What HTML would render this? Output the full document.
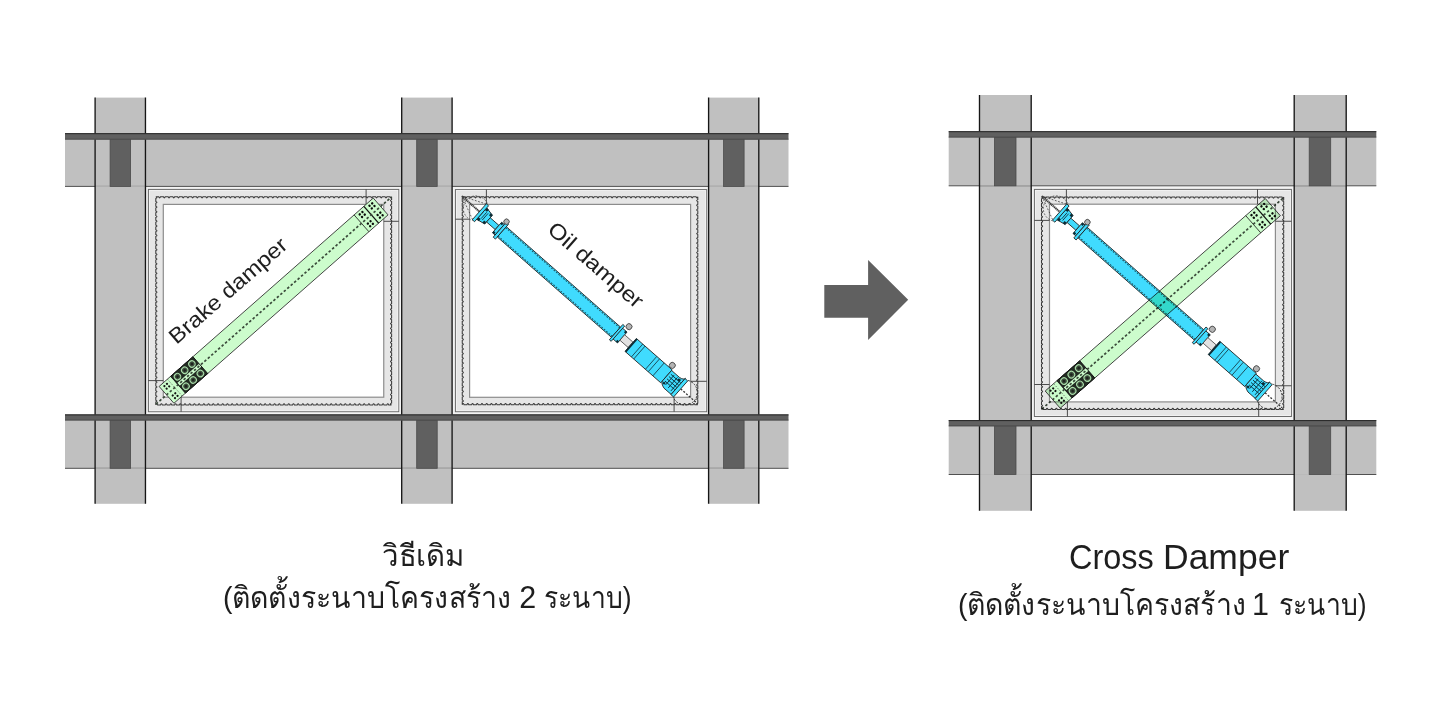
<!DOCTYPE html><html><head><meta charset="utf-8"><style>html,body{margin:0;padding:0;background:#fff;width:1440px;height:720px;overflow:hidden}.t{position:absolute;font-family:"Liberation Sans",sans-serif;color:#1e1e1e;white-space:nowrap;line-height:1;transform-origin:0 0}</style></head><body>
<svg width="1440" height="720" viewBox="0 0 1440 720" style="position:absolute;left:0;top:0">
<rect width="1440" height="720" fill="#fff"/>
<rect x="145" y="186" width="257" height="229" fill="#f3f3f3"/>
<rect x="452" y="186" width="257" height="229" fill="#f3f3f3"/>
<rect x="95.1" y="97.6" width="50.35" height="406.2" fill="#c0c0c0"/>
<rect x="401.7" y="97.6" width="50.4" height="406.2" fill="#c0c0c0"/>
<rect x="708.6" y="97.6" width="50.2" height="406.2" fill="#c0c0c0"/>
<rect x="65" y="139.6" width="723.5" height="46.8" fill="#c0c0c0"/>
<line x1="65" y1="186.4" x2="788.5" y2="186.4" stroke="#505050" stroke-width="1"/>
<rect x="65" y="420.5" width="723.5" height="47.8" fill="#c0c0c0"/>
<line x1="65" y1="468.3" x2="788.5" y2="468.3" stroke="#505050" stroke-width="1"/>
<line x1="95.1" y1="186.4" x2="145.45" y2="186.4" stroke="#bababa" stroke-width="1"/>
<line x1="401.7" y1="186.4" x2="452.1" y2="186.4" stroke="#bababa" stroke-width="1"/>
<line x1="708.6" y1="186.4" x2="758.8" y2="186.4" stroke="#bababa" stroke-width="1"/>
<line x1="95.1" y1="468.3" x2="145.45" y2="468.3" stroke="#bababa" stroke-width="1"/>
<line x1="401.7" y1="468.3" x2="452.1" y2="468.3" stroke="#bababa" stroke-width="1"/>
<line x1="708.6" y1="468.3" x2="758.8" y2="468.3" stroke="#bababa" stroke-width="1"/>
<rect x="110.1" y="139.1" width="20.5" height="47.3" fill="#606060" stroke="#4a4a4a" stroke-width="0.8"/>
<rect x="416.7" y="139.1" width="20.5" height="47.3" fill="#606060" stroke="#4a4a4a" stroke-width="0.8"/>
<rect x="723.6" y="139.1" width="20.5" height="47.3" fill="#606060" stroke="#4a4a4a" stroke-width="0.8"/>
<rect x="110.1" y="420" width="20.5" height="48.3" fill="#606060" stroke="#4a4a4a" stroke-width="0.8"/>
<rect x="416.7" y="420" width="20.5" height="48.3" fill="#606060" stroke="#4a4a4a" stroke-width="0.8"/>
<rect x="723.6" y="420" width="20.5" height="48.3" fill="#606060" stroke="#4a4a4a" stroke-width="0.8"/>
<line x1="95.1" y1="97.6" x2="95.1" y2="503.8" stroke="#161616" stroke-width="1.35"/>
<line x1="145.45" y1="97.6" x2="145.45" y2="503.8" stroke="#161616" stroke-width="1.35"/>
<line x1="401.7" y1="97.6" x2="401.7" y2="503.8" stroke="#161616" stroke-width="1.35"/>
<line x1="452.1" y1="97.6" x2="452.1" y2="503.8" stroke="#161616" stroke-width="1.35"/>
<line x1="708.6" y1="97.6" x2="708.6" y2="503.8" stroke="#161616" stroke-width="1.35"/>
<line x1="758.8" y1="97.6" x2="758.8" y2="503.8" stroke="#161616" stroke-width="1.35"/>
<rect x="65" y="133.2" width="723.5" height="6.4" fill="#606060"/>
<line x1="65" y1="133.7" x2="788.5" y2="133.7" stroke="#262626" stroke-width="1"/>
<line x1="65" y1="139.2" x2="788.5" y2="139.2" stroke="#454545" stroke-width="0.8"/>
<rect x="65" y="414.4" width="723.5" height="6.1" fill="#606060"/>
<line x1="65" y1="414.9" x2="788.5" y2="414.9" stroke="#262626" stroke-width="1"/>
<line x1="65" y1="420.1" x2="788.5" y2="420.1" stroke="#454545" stroke-width="0.8"/>
<rect x="148.4" y="189.4" width="250.35" height="222.3" fill="#e6e6e6" stroke="#6a6a6a" stroke-width="1"/>
<rect x="149.4" y="190.4" width="248.35" height="220.3" fill="none" stroke="#f4f4f4" stroke-width="0.8"/>
<rect x="163.3" y="204.4" width="220.45" height="192.8" fill="#ffffff" stroke="#8c8c8c" stroke-width="1.2"/>
<path d="M155.8,196.7 L158.71,196.7 Q159.61,199 160.52,196.7 L163.43,196.7 Q164.33,199 165.23,196.7 L168.14,196.7 Q169.04,199 169.95,196.7 L172.86,196.7 Q173.76,199 174.66,196.7 L177.57,196.7 Q178.48,199 179.38,196.7 L182.29,196.7 Q183.19,199 184.1,196.7 L187.01,196.7 Q187.91,199 188.81,196.7 L191.72,196.7 Q192.62,199 193.53,196.7 L196.44,196.7 Q197.34,199 198.24,196.7 L201.15,196.7 Q202.06,199 202.96,196.7 L205.87,196.7 Q206.77,199 207.68,196.7 L210.59,196.7 Q211.49,199 212.39,196.7 L215.3,196.7 Q216.2,199 217.11,196.7 L220.02,196.7 Q220.92,199 221.82,196.7 L224.73,196.7 Q225.64,199 226.54,196.7 L229.45,196.7 Q230.35,199 231.26,196.7 L234.17,196.7 Q235.07,199 235.97,196.7 L238.88,196.7 Q239.78,199 240.69,196.7 L243.6,196.7 Q244.5,199 245.4,196.7 L248.31,196.7 Q249.22,199 250.12,196.7 L253.03,196.7 Q253.93,199 254.84,196.7 L257.75,196.7 Q258.65,199 259.55,196.7 L262.46,196.7 Q263.36,199 264.27,196.7 L267.18,196.7 Q268.08,199 268.98,196.7 L271.89,196.7 Q272.8,199 273.7,196.7 L276.61,196.7 Q277.51,199 278.42,196.7 L281.33,196.7 Q282.23,199 283.13,196.7 L286.04,196.7 Q286.94,199 287.85,196.7 L290.76,196.7 Q291.66,199 292.56,196.7 L295.47,196.7 Q296.38,199 297.28,196.7 L300.19,196.7 Q301.09,199 302,196.7 L304.91,196.7 Q305.81,199 306.71,196.7 L309.62,196.7 Q310.52,199 311.43,196.7 L314.34,196.7 Q315.24,199 316.14,196.7 L319.05,196.7 Q319.96,199 320.86,196.7 L323.77,196.7 Q324.67,199 325.58,196.7 L328.49,196.7 Q329.39,199 330.29,196.7 L333.2,196.7 Q334.1,199 335.01,196.7 L337.92,196.7 Q338.82,199 339.72,196.7 L342.63,196.7 Q343.54,199 344.44,196.7 L347.35,196.7 Q348.25,199 349.16,196.7 L352.07,196.7 Q352.97,199 353.87,196.7 L356.78,196.7 Q357.68,199 358.59,196.7 L361.5,196.7 Q362.4,199 363.3,196.7 L366.21,196.7 Q367.12,199 368.02,196.7 L370.93,196.7 Q371.83,199 372.74,196.7 L375.65,196.7 Q376.55,199 377.45,196.7 L380.36,196.7 Q381.26,199 382.17,196.7 L385.08,196.7 Q385.98,199 386.88,196.7 L389.79,196.7 Q390.7,199 391.6,196.7 M391.6,196.7 L391.6,199.62 Q389.3,200.53 391.6,201.43 L391.6,204.35 Q389.3,205.26 391.6,206.16 L391.6,209.08 Q389.3,209.99 391.6,210.9 L391.6,213.82 Q389.3,214.72 391.6,215.63 L391.6,218.55 Q389.3,219.45 391.6,220.36 L391.6,223.28 Q389.3,224.18 391.6,225.09 L391.6,228.01 Q389.3,228.92 391.6,229.82 L391.6,232.74 Q389.3,233.65 391.6,234.55 L391.6,237.47 Q389.3,238.38 391.6,239.29 L391.6,242.21 Q389.3,243.11 391.6,244.02 L391.6,246.94 Q389.3,247.84 391.6,248.75 L391.6,251.67 Q389.3,252.58 391.6,253.48 L391.6,256.4 Q389.3,257.31 391.6,258.21 L391.6,261.13 Q389.3,262.04 391.6,262.95 L391.6,265.87 Q389.3,266.77 391.6,267.68 L391.6,270.6 Q389.3,271.5 391.6,272.41 L391.6,275.33 Q389.3,276.23 391.6,277.14 L391.6,280.06 Q389.3,280.97 391.6,281.87 L391.6,284.79 Q389.3,285.7 391.6,286.6 L391.6,289.52 Q389.3,290.43 391.6,291.34 L391.6,294.26 Q389.3,295.16 391.6,296.07 L391.6,298.99 Q389.3,299.89 391.6,300.8 L391.6,303.72 Q389.3,304.63 391.6,305.53 L391.6,308.45 Q389.3,309.36 391.6,310.26 L391.6,313.18 Q389.3,314.09 391.6,315 L391.6,317.92 Q389.3,318.82 391.6,319.73 L391.6,322.65 Q389.3,323.55 391.6,324.46 L391.6,327.38 Q389.3,328.28 391.6,329.19 L391.6,332.11 Q389.3,333.02 391.6,333.92 L391.6,336.84 Q389.3,337.75 391.6,338.65 L391.6,341.57 Q389.3,342.48 391.6,343.39 L391.6,346.31 Q389.3,347.21 391.6,348.12 L391.6,351.04 Q389.3,351.94 391.6,352.85 L391.6,355.77 Q389.3,356.68 391.6,357.58 L391.6,360.5 Q389.3,361.41 391.6,362.31 L391.6,365.23 Q389.3,366.14 391.6,367.05 L391.6,369.97 Q389.3,370.87 391.6,371.78 L391.6,374.7 Q389.3,375.6 391.6,376.51 L391.6,379.43 Q389.3,380.33 391.6,381.24 L391.6,384.16 Q389.3,385.07 391.6,385.97 L391.6,388.89 Q389.3,389.8 391.6,390.7 L391.6,393.62 Q389.3,394.53 391.6,395.44 L391.6,398.36 Q389.3,399.26 391.6,400.17 L391.6,403.09 Q389.3,403.99 391.6,404.9 M391.6,404.9 L388.69,404.9 Q387.79,402.6 386.88,404.9 L383.97,404.9 Q383.07,402.6 382.17,404.9 L379.26,404.9 Q378.36,402.6 377.45,404.9 L374.54,404.9 Q373.64,402.6 372.74,404.9 L369.83,404.9 Q368.92,402.6 368.02,404.9 L365.11,404.9 Q364.21,402.6 363.3,404.9 L360.39,404.9 Q359.49,402.6 358.59,404.9 L355.68,404.9 Q354.78,402.6 353.87,404.9 L350.96,404.9 Q350.06,402.6 349.16,404.9 L346.25,404.9 Q345.34,402.6 344.44,404.9 L341.53,404.9 Q340.63,402.6 339.72,404.9 L336.81,404.9 Q335.91,402.6 335.01,404.9 L332.1,404.9 Q331.2,402.6 330.29,404.9 L327.38,404.9 Q326.48,402.6 325.58,404.9 L322.67,404.9 Q321.76,402.6 320.86,404.9 L317.95,404.9 Q317.05,402.6 316.14,404.9 L313.23,404.9 Q312.33,402.6 311.43,404.9 L308.52,404.9 Q307.62,402.6 306.71,404.9 L303.8,404.9 Q302.9,402.6 302,404.9 L299.09,404.9 Q298.18,402.6 297.28,404.9 L294.37,404.9 Q293.47,402.6 292.56,404.9 L289.65,404.9 Q288.75,402.6 287.85,404.9 L284.94,404.9 Q284.04,402.6 283.13,404.9 L280.22,404.9 Q279.32,402.6 278.42,404.9 L275.51,404.9 Q274.6,402.6 273.7,404.9 L270.79,404.9 Q269.89,402.6 268.98,404.9 L266.07,404.9 Q265.17,402.6 264.27,404.9 L261.36,404.9 Q260.46,402.6 259.55,404.9 L256.64,404.9 Q255.74,402.6 254.84,404.9 L251.93,404.9 Q251.02,402.6 250.12,404.9 L247.21,404.9 Q246.31,402.6 245.4,404.9 L242.49,404.9 Q241.59,402.6 240.69,404.9 L237.78,404.9 Q236.88,402.6 235.97,404.9 L233.06,404.9 Q232.16,402.6 231.26,404.9 L228.35,404.9 Q227.44,402.6 226.54,404.9 L223.63,404.9 Q222.73,402.6 221.82,404.9 L218.91,404.9 Q218.01,402.6 217.11,404.9 L214.2,404.9 Q213.3,402.6 212.39,404.9 L209.48,404.9 Q208.58,402.6 207.68,404.9 L204.77,404.9 Q203.86,402.6 202.96,404.9 L200.05,404.9 Q199.15,402.6 198.24,404.9 L195.33,404.9 Q194.43,402.6 193.53,404.9 L190.62,404.9 Q189.72,402.6 188.81,404.9 L185.9,404.9 Q185,402.6 184.1,404.9 L181.19,404.9 Q180.28,402.6 179.38,404.9 L176.47,404.9 Q175.57,402.6 174.66,404.9 L171.75,404.9 Q170.85,402.6 169.95,404.9 L167.04,404.9 Q166.14,402.6 165.23,404.9 L162.32,404.9 Q161.42,402.6 160.52,404.9 L157.61,404.9 Q156.7,402.6 155.8,404.9 M155.8,404.9 L155.8,401.98 Q158.1,401.07 155.8,400.17 L155.8,397.25 Q158.1,396.34 155.8,395.44 L155.8,392.52 Q158.1,391.61 155.8,390.7 L155.8,387.78 Q158.1,386.88 155.8,385.97 L155.8,383.05 Q158.1,382.15 155.8,381.24 L155.8,378.32 Q158.1,377.42 155.8,376.51 L155.8,373.59 Q158.1,372.68 155.8,371.78 L155.8,368.86 Q158.1,367.95 155.8,367.05 L155.8,364.13 Q158.1,363.22 155.8,362.31 L155.8,359.39 Q158.1,358.49 155.8,357.58 L155.8,354.66 Q158.1,353.76 155.8,352.85 L155.8,349.93 Q158.1,349.02 155.8,348.12 L155.8,345.2 Q158.1,344.29 155.8,343.39 L155.8,340.47 Q158.1,339.56 155.8,338.65 L155.8,335.73 Q158.1,334.83 155.8,333.92 L155.8,331 Q158.1,330.1 155.8,329.19 L155.8,326.27 Q158.1,325.37 155.8,324.46 L155.8,321.54 Q158.1,320.63 155.8,319.73 L155.8,316.81 Q158.1,315.9 155.8,315 L155.8,312.08 Q158.1,311.17 155.8,310.26 L155.8,307.34 Q158.1,306.44 155.8,305.53 L155.8,302.61 Q158.1,301.71 155.8,300.8 L155.8,297.88 Q158.1,296.97 155.8,296.07 L155.8,293.15 Q158.1,292.24 155.8,291.34 L155.8,288.42 Q158.1,287.51 155.8,286.6 L155.8,283.68 Q158.1,282.78 155.8,281.87 L155.8,278.95 Q158.1,278.05 155.8,277.14 L155.8,274.22 Q158.1,273.32 155.8,272.41 L155.8,269.49 Q158.1,268.58 155.8,267.68 L155.8,264.76 Q158.1,263.85 155.8,262.95 L155.8,260.03 Q158.1,259.12 155.8,258.21 L155.8,255.29 Q158.1,254.39 155.8,253.48 L155.8,250.56 Q158.1,249.66 155.8,248.75 L155.8,245.83 Q158.1,244.92 155.8,244.02 L155.8,241.1 Q158.1,240.19 155.8,239.29 L155.8,236.37 Q158.1,235.46 155.8,234.55 L155.8,231.63 Q158.1,230.73 155.8,229.82 L155.8,226.9 Q158.1,226 155.8,225.09 L155.8,222.17 Q158.1,221.27 155.8,220.36 L155.8,217.44 Q158.1,216.53 155.8,215.63 L155.8,212.71 Q158.1,211.8 155.8,210.9 L155.8,207.98 Q158.1,207.07 155.8,206.16 L155.8,203.24 Q158.1,202.34 155.8,201.43 L155.8,198.51 Q158.1,197.61 155.8,196.7" fill="none" stroke="#3a3a3a" stroke-width="1.05"/>
<line x1="366.1" y1="189.4" x2="366.1" y2="204.4" stroke="#3a3a3a" stroke-width="0.9"/>
<line x1="383.75" y1="221.3" x2="398.75" y2="221.3" stroke="#3a3a3a" stroke-width="0.9"/>
<line x1="148.4" y1="380.6" x2="163.3" y2="380.6" stroke="#3a3a3a" stroke-width="0.9"/>
<line x1="181.1" y1="397.2" x2="181.1" y2="411.7" stroke="#3a3a3a" stroke-width="0.9"/>
<rect x="455.4" y="189.6" width="251.3" height="222.1" fill="#e6e6e6" stroke="#6a6a6a" stroke-width="1"/>
<rect x="456.4" y="190.6" width="249.3" height="220.1" fill="none" stroke="#f4f4f4" stroke-width="0.8"/>
<rect x="469.6" y="204.4" width="221" height="192.9" fill="#ffffff" stroke="#8c8c8c" stroke-width="1.2"/>
<path d="M462.25,196.7 L465.16,196.7 Q466.06,199 466.96,196.7 L469.87,196.7 Q470.77,199 471.67,196.7 L474.58,196.7 Q475.48,199 476.38,196.7 L479.29,196.7 Q480.19,199 481.09,196.7 L484,196.7 Q484.9,199 485.81,196.7 L488.71,196.7 Q489.61,199 490.52,196.7 L493.42,196.7 Q494.32,199 495.23,196.7 L498.13,196.7 Q499.04,199 499.94,196.7 L502.84,196.7 Q503.75,199 504.65,196.7 L507.56,196.7 Q508.46,199 509.36,196.7 L512.27,196.7 Q513.17,199 514.07,196.7 L516.98,196.7 Q517.88,199 518.78,196.7 L521.69,196.7 Q522.59,199 523.49,196.7 L526.4,196.7 Q527.3,199 528.2,196.7 L531.11,196.7 Q532.01,199 532.91,196.7 L535.82,196.7 Q536.72,199 537.63,196.7 L540.53,196.7 Q541.43,199 542.34,196.7 L545.24,196.7 Q546.15,199 547.05,196.7 L549.95,196.7 Q550.86,199 551.76,196.7 L554.67,196.7 Q555.57,199 556.47,196.7 L559.38,196.7 Q560.28,199 561.18,196.7 L564.09,196.7 Q564.99,199 565.89,196.7 L568.8,196.7 Q569.7,199 570.6,196.7 L573.51,196.7 Q574.41,199 575.31,196.7 L578.22,196.7 Q579.12,199 580.02,196.7 L582.93,196.7 Q583.83,199 584.74,196.7 L587.64,196.7 Q588.54,199 589.45,196.7 L592.35,196.7 Q593.26,199 594.16,196.7 L597.06,196.7 Q597.97,199 598.87,196.7 L601.78,196.7 Q602.68,199 603.58,196.7 L606.49,196.7 Q607.39,199 608.29,196.7 L611.2,196.7 Q612.1,199 613,196.7 L615.91,196.7 Q616.81,199 617.71,196.7 L620.62,196.7 Q621.52,199 622.42,196.7 L625.33,196.7 Q626.23,199 627.13,196.7 L630.04,196.7 Q630.94,199 631.85,196.7 L634.75,196.7 Q635.65,199 636.56,196.7 L639.46,196.7 Q640.37,199 641.27,196.7 L644.17,196.7 Q645.08,199 645.98,196.7 L648.89,196.7 Q649.79,199 650.69,196.7 L653.6,196.7 Q654.5,199 655.4,196.7 L658.31,196.7 Q659.21,199 660.11,196.7 L663.02,196.7 Q663.92,199 664.82,196.7 L667.73,196.7 Q668.63,199 669.53,196.7 L672.44,196.7 Q673.34,199 674.25,196.7 L677.15,196.7 Q678.05,199 678.96,196.7 L681.86,196.7 Q682.76,199 683.67,196.7 L686.57,196.7 Q687.48,199 688.38,196.7 L691.28,196.7 Q692.19,199 693.09,196.7 L696,196.7 Q696.9,199 697.8,196.7 M697.8,196.7 L697.8,199.62 Q695.5,200.52 697.8,201.43 L697.8,204.34 Q695.5,205.25 697.8,206.15 L697.8,209.07 Q695.5,209.98 697.8,210.88 L697.8,213.8 Q695.5,214.7 697.8,215.61 L697.8,218.53 Q695.5,219.43 697.8,220.34 L697.8,223.25 Q695.5,224.16 697.8,225.06 L697.8,227.98 Q695.5,228.89 697.8,229.79 L697.8,232.71 Q695.5,233.61 697.8,234.52 L697.8,237.44 Q695.5,238.34 697.8,239.25 L697.8,242.16 Q695.5,243.07 697.8,243.97 L697.8,246.89 Q695.5,247.79 697.8,248.7 L697.8,251.62 Q695.5,252.52 697.8,253.43 L697.8,256.34 Q695.5,257.25 697.8,258.15 L697.8,261.07 Q695.5,261.98 697.8,262.88 L697.8,265.8 Q695.5,266.7 697.8,267.61 L697.8,270.53 Q695.5,271.43 697.8,272.34 L697.8,275.25 Q695.5,276.16 697.8,277.06 L697.8,279.98 Q695.5,280.89 697.8,281.79 L697.8,284.71 Q695.5,285.61 697.8,286.52 L697.8,289.44 Q695.5,290.34 697.8,291.25 L697.8,294.16 Q695.5,295.07 697.8,295.97 L697.8,298.89 Q695.5,299.79 697.8,300.7 L697.8,303.62 Q695.5,304.52 697.8,305.43 L697.8,308.34 Q695.5,309.25 697.8,310.15 L697.8,313.07 Q695.5,313.98 697.8,314.88 L697.8,317.8 Q695.5,318.7 697.8,319.61 L697.8,322.53 Q695.5,323.43 697.8,324.34 L697.8,327.25 Q695.5,328.16 697.8,329.06 L697.8,331.98 Q695.5,332.89 697.8,333.79 L697.8,336.71 Q695.5,337.61 697.8,338.52 L697.8,341.44 Q695.5,342.34 697.8,343.25 L697.8,346.16 Q695.5,347.07 697.8,347.97 L697.8,350.89 Q695.5,351.79 697.8,352.7 L697.8,355.62 Q695.5,356.52 697.8,357.43 L697.8,360.34 Q695.5,361.25 697.8,362.15 L697.8,365.07 Q695.5,365.98 697.8,366.88 L697.8,369.8 Q695.5,370.7 697.8,371.61 L697.8,374.53 Q695.5,375.43 697.8,376.34 L697.8,379.25 Q695.5,380.16 697.8,381.06 L697.8,383.98 Q695.5,384.89 697.8,385.79 L697.8,388.71 Q695.5,389.61 697.8,390.52 L697.8,393.44 Q695.5,394.34 697.8,395.25 L697.8,398.16 Q695.5,399.07 697.8,399.97 L697.8,402.89 Q695.5,403.79 697.8,404.7 M697.8,404.7 L694.89,404.7 Q693.99,402.4 693.09,404.7 L690.18,404.7 Q689.28,402.4 688.38,404.7 L685.47,404.7 Q684.57,402.4 683.67,404.7 L680.76,404.7 Q679.86,402.4 678.96,404.7 L676.05,404.7 Q675.15,402.4 674.25,404.7 L671.34,404.7 Q670.44,402.4 669.53,404.7 L666.63,404.7 Q665.73,402.4 664.82,404.7 L661.92,404.7 Q661.01,402.4 660.11,404.7 L657.21,404.7 Q656.3,402.4 655.4,404.7 L652.49,404.7 Q651.59,402.4 650.69,404.7 L647.78,404.7 Q646.88,402.4 645.98,404.7 L643.07,404.7 Q642.17,402.4 641.27,404.7 L638.36,404.7 Q637.46,402.4 636.56,404.7 L633.65,404.7 Q632.75,402.4 631.85,404.7 L628.94,404.7 Q628.04,402.4 627.13,404.7 L624.23,404.7 Q623.33,402.4 622.42,404.7 L619.52,404.7 Q618.62,402.4 617.71,404.7 L614.81,404.7 Q613.9,402.4 613,404.7 L610.1,404.7 Q609.19,402.4 608.29,404.7 L605.38,404.7 Q604.48,402.4 603.58,404.7 L600.67,404.7 Q599.77,402.4 598.87,404.7 L595.96,404.7 Q595.06,402.4 594.16,404.7 L591.25,404.7 Q590.35,402.4 589.45,404.7 L586.54,404.7 Q585.64,402.4 584.74,404.7 L581.83,404.7 Q580.93,402.4 580.02,404.7 L577.12,404.7 Q576.22,402.4 575.31,404.7 L572.41,404.7 Q571.51,402.4 570.6,404.7 L567.7,404.7 Q566.79,402.4 565.89,404.7 L562.99,404.7 Q562.08,402.4 561.18,404.7 L558.27,404.7 Q557.37,402.4 556.47,404.7 L553.56,404.7 Q552.66,402.4 551.76,404.7 L548.85,404.7 Q547.95,402.4 547.05,404.7 L544.14,404.7 Q543.24,402.4 542.34,404.7 L539.43,404.7 Q538.53,402.4 537.63,404.7 L534.72,404.7 Q533.82,402.4 532.91,404.7 L530.01,404.7 Q529.11,402.4 528.2,404.7 L525.3,404.7 Q524.4,402.4 523.49,404.7 L520.59,404.7 Q519.68,402.4 518.78,404.7 L515.88,404.7 Q514.97,402.4 514.07,404.7 L511.16,404.7 Q510.26,402.4 509.36,404.7 L506.45,404.7 Q505.55,402.4 504.65,404.7 L501.74,404.7 Q500.84,402.4 499.94,404.7 L497.03,404.7 Q496.13,402.4 495.23,404.7 L492.32,404.7 Q491.42,402.4 490.52,404.7 L487.61,404.7 Q486.71,402.4 485.8,404.7 L482.9,404.7 Q482,402.4 481.09,404.7 L478.19,404.7 Q477.29,402.4 476.38,404.7 L473.48,404.7 Q472.57,402.4 471.67,404.7 L468.77,404.7 Q467.86,402.4 466.96,404.7 L464.05,404.7 Q463.15,402.4 462.25,404.7 M462.25,404.7 L462.25,401.78 Q464.55,400.88 462.25,399.97 L462.25,397.06 Q464.55,396.15 462.25,395.25 L462.25,392.33 Q464.55,391.42 462.25,390.52 L462.25,387.6 Q464.55,386.7 462.25,385.79 L462.25,382.87 Q464.55,381.97 462.25,381.06 L462.25,378.15 Q464.55,377.24 462.25,376.34 L462.25,373.42 Q464.55,372.51 462.25,371.61 L462.25,368.69 Q464.55,367.79 462.25,366.88 L462.25,363.96 Q464.55,363.06 462.25,362.15 L462.25,359.24 Q464.55,358.33 462.25,357.43 L462.25,354.51 Q464.55,353.61 462.25,352.7 L462.25,349.78 Q464.55,348.88 462.25,347.97 L462.25,345.06 Q464.55,344.15 462.25,343.25 L462.25,340.33 Q464.55,339.42 462.25,338.52 L462.25,335.6 Q464.55,334.7 462.25,333.79 L462.25,330.87 Q464.55,329.97 462.25,329.06 L462.25,326.15 Q464.55,325.24 462.25,324.34 L462.25,321.42 Q464.55,320.51 462.25,319.61 L462.25,316.69 Q464.55,315.79 462.25,314.88 L462.25,311.96 Q464.55,311.06 462.25,310.15 L462.25,307.24 Q464.55,306.33 462.25,305.43 L462.25,302.51 Q464.55,301.61 462.25,300.7 L462.25,297.78 Q464.55,296.88 462.25,295.97 L462.25,293.06 Q464.55,292.15 462.25,291.25 L462.25,288.33 Q464.55,287.42 462.25,286.52 L462.25,283.6 Q464.55,282.7 462.25,281.79 L462.25,278.87 Q464.55,277.97 462.25,277.06 L462.25,274.15 Q464.55,273.24 462.25,272.34 L462.25,269.42 Q464.55,268.51 462.25,267.61 L462.25,264.69 Q464.55,263.79 462.25,262.88 L462.25,259.96 Q464.55,259.06 462.25,258.15 L462.25,255.24 Q464.55,254.33 462.25,253.43 L462.25,250.51 Q464.55,249.61 462.25,248.7 L462.25,245.78 Q464.55,244.88 462.25,243.97 L462.25,241.06 Q464.55,240.15 462.25,239.25 L462.25,236.33 Q464.55,235.42 462.25,234.52 L462.25,231.6 Q464.55,230.7 462.25,229.79 L462.25,226.87 Q464.55,225.97 462.25,225.06 L462.25,222.15 Q464.55,221.24 462.25,220.34 L462.25,217.42 Q464.55,216.51 462.25,215.61 L462.25,212.69 Q464.55,211.79 462.25,210.88 L462.25,207.96 Q464.55,207.06 462.25,206.15 L462.25,203.24 Q464.55,202.33 462.25,201.43 L462.25,198.51 Q464.55,197.61 462.25,196.7" fill="none" stroke="#3a3a3a" stroke-width="1.05"/>
<line x1="486.4" y1="189.6" x2="486.4" y2="204.4" stroke="#3a3a3a" stroke-width="0.9"/>
<line x1="455.4" y1="219.2" x2="469.6" y2="219.2" stroke="#3a3a3a" stroke-width="0.9"/>
<line x1="690.6" y1="381.3" x2="706.7" y2="381.3" stroke="#3a3a3a" stroke-width="0.9"/>
<line x1="674.1" y1="397.3" x2="674.1" y2="411.7" stroke="#3a3a3a" stroke-width="0.9"/>
<g transform="translate(155.75,403.8) rotate(-41.34) translate(0,0.4)">
<rect x="14" y="-11.2" width="285.18" height="22.4" fill="#ccfccc" stroke="#2a2a2a" stroke-width="0.8"/>
<rect x="29.5" y="-11.2" width="29.5" height="9.4" fill="#222c22"/>
<rect x="29.5" y="1.8" width="29.5" height="9.4" fill="#222c22"/>
<rect x="29.5" y="-11.2" width="29.5" height="22.4" fill="none" stroke="#111" stroke-width="0.9"/>
<circle cx="34.3" cy="-6.4" r="3.2" fill="#3c4c3c" stroke="#a8dca8" stroke-width="1.15"/>
<circle cx="34.3" cy="-6.4" r="1.3" fill="#1c221c"/>
<circle cx="34.3" cy="6.4" r="3.2" fill="#3c4c3c" stroke="#a8dca8" stroke-width="1.15"/>
<circle cx="34.3" cy="6.4" r="1.3" fill="#1c221c"/>
<circle cx="43.9" cy="-6.4" r="3.2" fill="#3c4c3c" stroke="#a8dca8" stroke-width="1.15"/>
<circle cx="43.9" cy="-6.4" r="1.3" fill="#1c221c"/>
<circle cx="43.9" cy="6.4" r="3.2" fill="#3c4c3c" stroke="#a8dca8" stroke-width="1.15"/>
<circle cx="43.9" cy="6.4" r="1.3" fill="#1c221c"/>
<circle cx="53.5" cy="-6.4" r="3.2" fill="#3c4c3c" stroke="#a8dca8" stroke-width="1.15"/>
<circle cx="53.5" cy="-6.4" r="1.3" fill="#1c221c"/>
<circle cx="53.5" cy="6.4" r="3.2" fill="#3c4c3c" stroke="#a8dca8" stroke-width="1.15"/>
<circle cx="53.5" cy="6.4" r="1.3" fill="#1c221c"/>
<line x1="29.5" y1="-11.2" x2="29.5" y2="11.2" stroke="#222" stroke-width="1"/>
<circle cx="18.2" cy="-4.6" r="1.1" fill="#111"/>
<circle cx="18.2" cy="-8" r="1.1" fill="#111"/>
<circle cx="21.6" cy="-4.6" r="1.1" fill="#111"/>
<circle cx="21.6" cy="-8" r="1.1" fill="#111"/>
<circle cx="18.2" cy="4.6" r="1.1" fill="#111"/>
<circle cx="18.2" cy="8" r="1.1" fill="#111"/>
<circle cx="21.6" cy="4.6" r="1.1" fill="#111"/>
<circle cx="21.6" cy="8" r="1.1" fill="#111"/>
<line x1="25" y1="-11.2" x2="25" y2="11.2" stroke="#444" stroke-width="0.6" stroke-dasharray="1.5 1.5"/>
<line x1="273.68" y1="-11.2" x2="273.68" y2="11.2" stroke="#222" stroke-width="0.8"/>
<line x1="286.68" y1="-11.2" x2="286.68" y2="11.2" stroke="#111" stroke-width="1.3"/>
<circle cx="278.28" cy="-4.4" r="1.2" fill="#0a0a0a"/>
<circle cx="278.28" cy="-7.9" r="1.2" fill="#0a0a0a"/>
<circle cx="281.88" cy="-4.4" r="1.2" fill="#0a0a0a"/>
<circle cx="281.88" cy="-7.9" r="1.2" fill="#0a0a0a"/>
<circle cx="278.28" cy="4.4" r="1.2" fill="#0a0a0a"/>
<circle cx="278.28" cy="7.9" r="1.2" fill="#0a0a0a"/>
<circle cx="281.88" cy="4.4" r="1.2" fill="#0a0a0a"/>
<circle cx="281.88" cy="7.9" r="1.2" fill="#0a0a0a"/>
<circle cx="291.28" cy="-4.4" r="1.2" fill="#0a0a0a"/>
<circle cx="291.28" cy="-7.9" r="1.2" fill="#0a0a0a"/>
<circle cx="294.88" cy="-4.4" r="1.2" fill="#0a0a0a"/>
<circle cx="294.88" cy="-7.9" r="1.2" fill="#0a0a0a"/>
<circle cx="291.28" cy="4.4" r="1.2" fill="#0a0a0a"/>
<circle cx="291.28" cy="7.9" r="1.2" fill="#0a0a0a"/>
<circle cx="294.88" cy="4.4" r="1.2" fill="#0a0a0a"/>
<circle cx="294.88" cy="7.9" r="1.2" fill="#0a0a0a"/>
<line x1="0" y1="0" x2="313.68" y2="0" stroke="#3a4a3a" stroke-width="1.7" stroke-dasharray="2.5 2.1"/>
</g>
<g transform="translate(462.5,197.1) rotate(41.31)" stroke-linejoin="round">
<g transform="translate(-1,-0.3)">
<path d="M0,0 L24,-10.4 M0,0 L24,10.8" fill="none" stroke="#333" stroke-width="0.7" stroke-dasharray="1.8 1.6"/>
<path d="M24,-11.2 A12.5,12.5 0 1 0 24,11.2" fill="none" stroke="#4a4a4a" stroke-width="0.75" stroke-dasharray="1.8 1.5"/>
<line x1="0" y1="0" x2="24" y2="0" stroke="#3c3c3c" stroke-width="2" stroke-dasharray="1.3 0.5"/>
<path d="M26.3,-7.6 L35.5,-5.8 L35.5,5.8 L26.3,7.6 Z" fill="#40dbfe" stroke="#1a1a1a" stroke-width="0.8"/>
<rect x="26.3" y="-7.6" width="2.8" height="2.8" fill="#0d2a33"/>
<rect x="26.3" y="4.8" width="2.8" height="2.8" fill="#0d2a33"/>
<rect x="32.8" y="-6.2" width="2.6" height="2.6" fill="#0d2a33"/>
<rect x="32.8" y="3.6" width="2.6" height="2.6" fill="#0d2a33"/>
<path d="M29.2,-4.2 V4.2 M31,-4.5 V4.5" stroke="#0d2a33" stroke-width="0.8"/>
<rect x="23.3" y="-10.4" width="3" height="21.2" fill="#44e0ff" stroke="#1a1a1a" stroke-width="0.8"/>
</g>
<rect x="34.5" y="-2.8" width="11.5" height="5.6" fill="#40dbfe" stroke="#1a1a1a" stroke-width="0.8"/>
<rect x="46" y="-7" width="3.5" height="14" fill="#40dbfe" stroke="#1a1a1a" stroke-width="0.8"/>
<rect x="46" y="-7" width="2.2" height="2.2" fill="#0d2a33"/>
<rect x="46" y="4.8" width="2.2" height="2.2" fill="#0d2a33"/>
<rect x="49.5" y="-9.8" width="3" height="19.6" fill="#40dbfe" stroke="#1a1a1a" stroke-width="0.8"/>
<circle cx="49.3" cy="-10.6" r="2.7" fill="#b4b4b4" stroke="#3a3a3a" stroke-width="0.8"/>
<rect x="52.5" y="-6.7" width="152" height="13.7" fill="#40dbfe" stroke="#1a1a1a" stroke-width="0.8"/>
<path d="M52.5,-5.5 H204.5 M52.5,5.8 H204.5" stroke="#1b5260" stroke-width="1" stroke-dasharray="1.8 1.4"/>
<rect x="206.5" y="-7.2" width="6.2" height="14.4" fill="#40dbfe" stroke="#1a1a1a" stroke-width="0.8"/>
<rect x="210.5" y="-7.2" width="2.2" height="2.2" fill="#0d2a33"/>
<rect x="210.5" y="5" width="2.2" height="2.2" fill="#0d2a33"/>
<rect x="204.5" y="-10.2" width="2.4" height="20.4" fill="#40dbfe" stroke="#1a1a1a" stroke-width="0.8"/>
<circle cx="210.6" cy="-12.6" r="3" fill="#b4b4b4" stroke="#3a3a3a" stroke-width="0.8"/>
<rect x="212.7" y="-3.6" width="11" height="7.2" fill="#e2e2e2" stroke="#333" stroke-width="0.7"/>
<rect x="223.9" y="-8.6" width="47.6" height="17.2" fill="#40dbfe" stroke="#1a1a1a" stroke-width="0.8"/>
<rect x="223.9" y="-8.6" width="1.6" height="17.2" fill="#0d2a33"/>
<line x1="232.4" y1="-8.6" x2="232.4" y2="8.6" stroke="#163a44" stroke-width="0.8"/>
<line x1="235.5" y1="-8.6" x2="235.5" y2="8.6" stroke="#163a44" stroke-width="0.8"/>
<line x1="251.1" y1="-8.6" x2="251.1" y2="8.6" stroke="#163a44" stroke-width="0.8"/>
<line x1="254.8" y1="-8.6" x2="254.8" y2="8.6" stroke="#163a44" stroke-width="0.8"/>
<line x1="261" y1="-8.6" x2="261" y2="8.6" stroke="#163a44" stroke-width="0.8"/>
<circle cx="268.7" cy="-12.1" r="3" fill="#b4b4b4" stroke="#3a3a3a" stroke-width="0.8"/>
<path d="M271.5,-7.8 H282 Q287,-8.5 287,-11 V10.5 H277.5 Q272,9 271.5,6 Z" fill="#40dbfe" stroke="#1a1a1a" stroke-width="0.8"/>
<path d="M273.5,-4.5 H286.5 M273.5,-1.5 H286.5 M273.5,1.5 H286.5 M273.5,4.5 H286.5 M276.5,-6 V7 M280.5,-6.5 V7.5 M284.5,-7 V8" stroke="#0a3340" stroke-width="0.9"/>
<rect x="282" y="-6.8" width="2.6" height="2.6" fill="#0d2a33"/>
<rect x="273" y="5.5" width="2.4" height="2.4" fill="#0d2a33"/>
<rect x="287" y="-10.6" width="3.5" height="21.4" fill="#44e0ff" stroke="#1a1a1a" stroke-width="0.8"/>
<line x1="290.5" y1="0" x2="313.26" y2="0" stroke="#333" stroke-width="1.3" stroke-dasharray="2 1.6"/>
<path d="M290.5,-11.2 A12.5,12.5 0 1 1 290.5,11.2" fill="none" stroke="#303030" stroke-width="0.9" stroke-dasharray="2 1.3"/>
</g>
<path d="M824.3,285.1 H868.1 V260 L908.2,299.8 L868.1,340 V317.8 H824.3 Z" fill="#606060"/>
<rect x="1031" y="186" width="263" height="235" fill="#f3f3f3"/>
<rect x="979.5" y="95" width="51.7" height="415.8" fill="#c0c0c0"/>
<rect x="1294.2" y="95" width="52" height="415.8" fill="#c0c0c0"/>
<rect x="948.7" y="137.5" width="427.6" height="48.3" fill="#c0c0c0"/>
<line x1="948.7" y1="185.8" x2="1376.3" y2="185.8" stroke="#505050" stroke-width="1"/>
<rect x="948.7" y="426.3" width="427.6" height="48.2" fill="#c0c0c0"/>
<line x1="948.7" y1="474.5" x2="1376.3" y2="474.5" stroke="#505050" stroke-width="1"/>
<line x1="979.5" y1="185.8" x2="1031.2" y2="185.8" stroke="#bababa" stroke-width="1"/>
<line x1="1294.2" y1="185.8" x2="1346.2" y2="185.8" stroke="#bababa" stroke-width="1"/>
<line x1="979.5" y1="474.5" x2="1031.2" y2="474.5" stroke="#bababa" stroke-width="1"/>
<line x1="1294.2" y1="474.5" x2="1346.2" y2="474.5" stroke="#bababa" stroke-width="1"/>
<rect x="994.5" y="137" width="21.5" height="48.8" fill="#606060" stroke="#4a4a4a" stroke-width="0.8"/>
<rect x="1309.2" y="137" width="21.5" height="48.8" fill="#606060" stroke="#4a4a4a" stroke-width="0.8"/>
<rect x="994.5" y="425.8" width="21.5" height="48.7" fill="#606060" stroke="#4a4a4a" stroke-width="0.8"/>
<rect x="1309.2" y="425.8" width="21.5" height="48.7" fill="#606060" stroke="#4a4a4a" stroke-width="0.8"/>
<line x1="979.5" y1="95" x2="979.5" y2="510.8" stroke="#161616" stroke-width="1.35"/>
<line x1="1031.2" y1="95" x2="1031.2" y2="510.8" stroke="#161616" stroke-width="1.35"/>
<line x1="1294.2" y1="95" x2="1294.2" y2="510.8" stroke="#161616" stroke-width="1.35"/>
<line x1="1346.2" y1="95" x2="1346.2" y2="510.8" stroke="#161616" stroke-width="1.35"/>
<rect x="948.7" y="131.2" width="427.6" height="6.3" fill="#606060"/>
<line x1="948.7" y1="131.7" x2="1376.3" y2="131.7" stroke="#262626" stroke-width="1"/>
<line x1="948.7" y1="137.1" x2="1376.3" y2="137.1" stroke="#454545" stroke-width="0.8"/>
<rect x="948.7" y="420.1" width="427.6" height="6.2" fill="#606060"/>
<line x1="948.7" y1="420.6" x2="1376.3" y2="420.6" stroke="#262626" stroke-width="1"/>
<line x1="948.7" y1="425.9" x2="1376.3" y2="425.9" stroke="#454545" stroke-width="0.8"/>
<rect x="1034.4" y="189.4" width="257" height="227.1" fill="#e6e6e6" stroke="#6a6a6a" stroke-width="1"/>
<rect x="1035.4" y="190.4" width="255" height="225.1" fill="none" stroke="#f4f4f4" stroke-width="0.8"/>
<rect x="1049.5" y="204.2" width="225.9" height="197.7" fill="#ffffff" stroke="#8c8c8c" stroke-width="1.2"/>
<path d="M1041.5,197 L1044.37,197 Q1045.27,199.3 1046.16,197 L1049.03,197 Q1049.92,199.3 1050.82,197 L1053.69,197 Q1054.58,199.3 1055.47,197 L1058.35,197 Q1059.24,199.3 1060.13,197 L1063,197 Q1063.9,199.3 1064.79,197 L1067.66,197 Q1068.55,199.3 1069.45,197 L1072.32,197 Q1073.21,199.3 1074.1,197 L1076.98,197 Q1077.87,199.3 1078.76,197 L1081.64,197 Q1082.53,199.3 1083.42,197 L1086.29,197 Q1087.19,199.3 1088.08,197 L1090.95,197 Q1091.84,199.3 1092.73,197 L1095.61,197 Q1096.5,199.3 1097.39,197 L1100.27,197 Q1101.16,199.3 1102.05,197 L1104.92,197 Q1105.82,199.3 1106.71,197 L1109.58,197 Q1110.47,199.3 1111.37,197 L1114.24,197 Q1115.13,199.3 1116.02,197 L1118.9,197 Q1119.79,199.3 1120.68,197 L1123.55,197 Q1124.45,199.3 1125.34,197 L1128.21,197 Q1129.1,199.3 1130,197 L1132.87,197 Q1133.76,199.3 1134.65,197 L1137.53,197 Q1138.42,199.3 1139.31,197 L1142.19,197 Q1143.08,199.3 1143.97,197 L1146.84,197 Q1147.74,199.3 1148.63,197 L1151.5,197 Q1152.39,199.3 1153.28,197 L1156.16,197 Q1157.05,199.3 1157.94,197 L1160.82,197 Q1161.71,199.3 1162.6,197 L1165.47,197 Q1166.37,199.3 1167.26,197 L1170.13,197 Q1171.02,199.3 1171.92,197 L1174.79,197 Q1175.68,199.3 1176.57,197 L1179.45,197 Q1180.34,199.3 1181.23,197 L1184.1,197 Q1185,199.3 1185.89,197 L1188.76,197 Q1189.65,199.3 1190.55,197 L1193.42,197 Q1194.31,199.3 1195.2,197 L1198.08,197 Q1198.97,199.3 1199.86,197 L1202.74,197 Q1203.63,199.3 1204.52,197 L1207.39,197 Q1208.29,199.3 1209.18,197 L1212.05,197 Q1212.94,199.3 1213.83,197 L1216.71,197 Q1217.6,199.3 1218.49,197 L1221.37,197 Q1222.26,199.3 1223.15,197 L1226.02,197 Q1226.92,199.3 1227.81,197 L1230.68,197 Q1231.57,199.3 1232.47,197 L1235.34,197 Q1236.23,199.3 1237.12,197 L1240,197 Q1240.89,199.3 1241.78,197 L1244.65,197 Q1245.55,199.3 1246.44,197 L1249.31,197 Q1250.2,199.3 1251.1,197 L1253.97,197 Q1254.86,199.3 1255.75,197 L1258.63,197 Q1259.52,199.3 1260.41,197 L1263.29,197 Q1264.18,199.3 1265.07,197 L1267.94,197 Q1268.84,199.3 1269.73,197 L1272.6,197 Q1273.49,199.3 1274.38,197 L1277.26,197 Q1278.15,199.3 1279.04,197 L1281.92,197 Q1282.81,199.3 1283.7,197 M1283.7,197 L1283.7,199.91 Q1281.4,200.82 1283.7,201.72 L1283.7,204.64 Q1281.4,205.54 1283.7,206.44 L1283.7,209.36 Q1281.4,210.26 1283.7,211.17 L1283.7,214.08 Q1281.4,214.98 1283.7,215.89 L1283.7,218.8 Q1281.4,219.71 1283.7,220.61 L1283.7,223.52 Q1281.4,224.43 1283.7,225.33 L1283.7,228.25 Q1281.4,229.15 1283.7,230.06 L1283.7,232.97 Q1281.4,233.87 1283.7,234.78 L1283.7,237.69 Q1281.4,238.6 1283.7,239.5 L1283.7,242.41 Q1281.4,243.32 1283.7,244.22 L1283.7,247.14 Q1281.4,248.04 1283.7,248.94 L1283.7,251.86 Q1281.4,252.76 1283.7,253.67 L1283.7,256.58 Q1281.4,257.48 1283.7,258.39 L1283.7,261.3 Q1281.4,262.21 1283.7,263.11 L1283.7,266.02 Q1281.4,266.93 1283.7,267.83 L1283.7,270.75 Q1281.4,271.65 1283.7,272.56 L1283.7,275.47 Q1281.4,276.37 1283.7,277.28 L1283.7,280.19 Q1281.4,281.1 1283.7,282 L1283.7,284.91 Q1281.4,285.82 1283.7,286.72 L1283.7,289.64 Q1281.4,290.54 1283.7,291.44 L1283.7,294.36 Q1281.4,295.26 1283.7,296.17 L1283.7,299.08 Q1281.4,299.98 1283.7,300.89 L1283.7,303.8 Q1281.4,304.71 1283.7,305.61 L1283.7,308.52 Q1281.4,309.43 1283.7,310.33 L1283.7,313.25 Q1281.4,314.15 1283.7,315.06 L1283.7,317.97 Q1281.4,318.87 1283.7,319.78 L1283.7,322.69 Q1281.4,323.6 1283.7,324.5 L1283.7,327.41 Q1281.4,328.32 1283.7,329.22 L1283.7,332.14 Q1281.4,333.04 1283.7,333.94 L1283.7,336.86 Q1281.4,337.76 1283.7,338.67 L1283.7,341.58 Q1281.4,342.48 1283.7,343.39 L1283.7,346.3 Q1281.4,347.21 1283.7,348.11 L1283.7,351.02 Q1281.4,351.93 1283.7,352.83 L1283.7,355.75 Q1281.4,356.65 1283.7,357.56 L1283.7,360.47 Q1281.4,361.37 1283.7,362.28 L1283.7,365.19 Q1281.4,366.1 1283.7,367 L1283.7,369.91 Q1281.4,370.82 1283.7,371.72 L1283.7,374.64 Q1281.4,375.54 1283.7,376.44 L1283.7,379.36 Q1281.4,380.26 1283.7,381.17 L1283.7,384.08 Q1281.4,384.98 1283.7,385.89 L1283.7,388.8 Q1281.4,389.71 1283.7,390.61 L1283.7,393.52 Q1281.4,394.43 1283.7,395.33 L1283.7,398.25 Q1281.4,399.15 1283.7,400.06 L1283.7,402.97 Q1281.4,403.87 1283.7,404.78 L1283.7,407.69 Q1281.4,408.6 1283.7,409.5 M1283.7,409.5 L1280.83,409.5 Q1279.93,407.2 1279.04,409.5 L1276.17,409.5 Q1275.28,407.2 1274.38,409.5 L1271.51,409.5 Q1270.62,407.2 1269.73,409.5 L1266.85,409.5 Q1265.96,407.2 1265.07,409.5 L1262.2,409.5 Q1261.3,407.2 1260.41,409.5 L1257.54,409.5 Q1256.65,407.2 1255.75,409.5 L1252.88,409.5 Q1251.99,407.2 1251.1,409.5 L1248.22,409.5 Q1247.33,407.2 1246.44,409.5 L1243.56,409.5 Q1242.67,407.2 1241.78,409.5 L1238.91,409.5 Q1238.01,407.2 1237.12,409.5 L1234.25,409.5 Q1233.36,407.2 1232.47,409.5 L1229.59,409.5 Q1228.7,407.2 1227.81,409.5 L1224.93,409.5 Q1224.04,407.2 1223.15,409.5 L1220.28,409.5 Q1219.38,407.2 1218.49,409.5 L1215.62,409.5 Q1214.73,407.2 1213.83,409.5 L1210.96,409.5 Q1210.07,407.2 1209.18,409.5 L1206.3,409.5 Q1205.41,407.2 1204.52,409.5 L1201.65,409.5 Q1200.75,407.2 1199.86,409.5 L1196.99,409.5 Q1196.1,407.2 1195.2,409.5 L1192.33,409.5 Q1191.44,407.2 1190.55,409.5 L1187.67,409.5 Q1186.78,407.2 1185.89,409.5 L1183.01,409.5 Q1182.12,407.2 1181.23,409.5 L1178.36,409.5 Q1177.46,407.2 1176.57,409.5 L1173.7,409.5 Q1172.81,407.2 1171.92,409.5 L1169.04,409.5 Q1168.15,407.2 1167.26,409.5 L1164.38,409.5 Q1163.49,407.2 1162.6,409.5 L1159.73,409.5 Q1158.83,407.2 1157.94,409.5 L1155.07,409.5 Q1154.18,407.2 1153.28,409.5 L1150.41,409.5 Q1149.52,407.2 1148.63,409.5 L1145.75,409.5 Q1144.86,407.2 1143.97,409.5 L1141.1,409.5 Q1140.2,407.2 1139.31,409.5 L1136.44,409.5 Q1135.55,407.2 1134.65,409.5 L1131.78,409.5 Q1130.89,407.2 1130,409.5 L1127.12,409.5 Q1126.23,407.2 1125.34,409.5 L1122.46,409.5 Q1121.57,407.2 1120.68,409.5 L1117.81,409.5 Q1116.91,407.2 1116.02,409.5 L1113.15,409.5 Q1112.26,407.2 1111.37,409.5 L1108.49,409.5 Q1107.6,407.2 1106.71,409.5 L1103.83,409.5 Q1102.94,407.2 1102.05,409.5 L1099.18,409.5 Q1098.28,407.2 1097.39,409.5 L1094.52,409.5 Q1093.63,407.2 1092.73,409.5 L1089.86,409.5 Q1088.97,407.2 1088.08,409.5 L1085.2,409.5 Q1084.31,407.2 1083.42,409.5 L1080.55,409.5 Q1079.65,407.2 1078.76,409.5 L1075.89,409.5 Q1075,407.2 1074.1,409.5 L1071.23,409.5 Q1070.34,407.2 1069.45,409.5 L1066.57,409.5 Q1065.68,407.2 1064.79,409.5 L1061.91,409.5 Q1061.02,407.2 1060.13,409.5 L1057.26,409.5 Q1056.36,407.2 1055.47,409.5 L1052.6,409.5 Q1051.71,407.2 1050.82,409.5 L1047.94,409.5 Q1047.05,407.2 1046.16,409.5 L1043.28,409.5 Q1042.39,407.2 1041.5,409.5 M1041.5,409.5 L1041.5,406.59 Q1043.8,405.68 1041.5,404.78 L1041.5,401.86 Q1043.8,400.96 1041.5,400.06 L1041.5,397.14 Q1043.8,396.24 1041.5,395.33 L1041.5,392.42 Q1043.8,391.52 1041.5,390.61 L1041.5,387.7 Q1043.8,386.79 1041.5,385.89 L1041.5,382.98 Q1043.8,382.07 1041.5,381.17 L1041.5,378.25 Q1043.8,377.35 1041.5,376.44 L1041.5,373.53 Q1043.8,372.63 1041.5,371.72 L1041.5,368.81 Q1043.8,367.9 1041.5,367 L1041.5,364.09 Q1043.8,363.18 1041.5,362.28 L1041.5,359.36 Q1043.8,358.46 1041.5,357.56 L1041.5,354.64 Q1043.8,353.74 1041.5,352.83 L1041.5,349.92 Q1043.8,349.02 1041.5,348.11 L1041.5,345.2 Q1043.8,344.29 1041.5,343.39 L1041.5,340.48 Q1043.8,339.57 1041.5,338.67 L1041.5,335.75 Q1043.8,334.85 1041.5,333.94 L1041.5,331.03 Q1043.8,330.13 1041.5,329.22 L1041.5,326.31 Q1043.8,325.4 1041.5,324.5 L1041.5,321.59 Q1043.8,320.68 1041.5,319.78 L1041.5,316.86 Q1043.8,315.96 1041.5,315.06 L1041.5,312.14 Q1043.8,311.24 1041.5,310.33 L1041.5,307.42 Q1043.8,306.52 1041.5,305.61 L1041.5,302.7 Q1043.8,301.79 1041.5,300.89 L1041.5,297.98 Q1043.8,297.07 1041.5,296.17 L1041.5,293.25 Q1043.8,292.35 1041.5,291.44 L1041.5,288.53 Q1043.8,287.63 1041.5,286.72 L1041.5,283.81 Q1043.8,282.9 1041.5,282 L1041.5,279.09 Q1043.8,278.18 1041.5,277.28 L1041.5,274.36 Q1043.8,273.46 1041.5,272.56 L1041.5,269.64 Q1043.8,268.74 1041.5,267.83 L1041.5,264.92 Q1043.8,264.02 1041.5,263.11 L1041.5,260.2 Q1043.8,259.29 1041.5,258.39 L1041.5,255.48 Q1043.8,254.57 1041.5,253.67 L1041.5,250.75 Q1043.8,249.85 1041.5,248.94 L1041.5,246.03 Q1043.8,245.13 1041.5,244.22 L1041.5,241.31 Q1043.8,240.4 1041.5,239.5 L1041.5,236.59 Q1043.8,235.68 1041.5,234.78 L1041.5,231.86 Q1043.8,230.96 1041.5,230.06 L1041.5,227.14 Q1043.8,226.24 1041.5,225.33 L1041.5,222.42 Q1043.8,221.52 1041.5,220.61 L1041.5,217.7 Q1043.8,216.79 1041.5,215.89 L1041.5,212.98 Q1043.8,212.07 1041.5,211.17 L1041.5,208.25 Q1043.8,207.35 1041.5,206.44 L1041.5,203.53 Q1043.8,202.63 1041.5,201.72 L1041.5,198.81 Q1043.8,197.9 1041.5,197" fill="none" stroke="#3a3a3a" stroke-width="1.05"/>
<line x1="1066.4" y1="189.4" x2="1066.4" y2="204.2" stroke="#3a3a3a" stroke-width="0.9"/>
<line x1="1034.4" y1="220.4" x2="1049.5" y2="220.4" stroke="#3a3a3a" stroke-width="0.9"/>
<line x1="1275.4" y1="385.75" x2="1291.4" y2="385.75" stroke="#3a3a3a" stroke-width="0.9"/>
<line x1="1258.7" y1="401.9" x2="1258.7" y2="416.5" stroke="#3a3a3a" stroke-width="0.9"/>
<line x1="1257.5" y1="189.4" x2="1257.5" y2="204.2" stroke="#3a3a3a" stroke-width="0.9"/>
<line x1="1275.4" y1="221.25" x2="1291.4" y2="221.25" stroke="#3a3a3a" stroke-width="0.9"/>
<line x1="1034.4" y1="384.5" x2="1049.5" y2="384.5" stroke="#3a3a3a" stroke-width="0.9"/>
<line x1="1067.4" y1="401.9" x2="1067.4" y2="416.5" stroke="#3a3a3a" stroke-width="0.9"/>
<g transform="translate(1042.5,197.1) rotate(41.32)" stroke-linejoin="round">
<g transform="translate(-1.02,-0.31)">
<path d="M0,0 L24.48,-10.61 M0,0 L24.48,11.02" fill="none" stroke="#333" stroke-width="0.7" stroke-dasharray="1.8 1.6"/>
<path d="M24.48,-11.42 A12.75,12.75 0 1 0 24.48,11.42" fill="none" stroke="#4a4a4a" stroke-width="0.75" stroke-dasharray="1.8 1.5"/>
<line x1="0" y1="0" x2="24.48" y2="0" stroke="#3c3c3c" stroke-width="2.04" stroke-dasharray="1.3 0.5"/>
<path d="M26.83,-7.75 L36.21,-5.92 L36.21,5.92 L26.83,7.75 Z" fill="#40dbfe" stroke="#1a1a1a" stroke-width="0.8"/>
<rect x="26.83" y="-7.75" width="2.86" height="2.86" fill="#0d2a33"/>
<rect x="26.83" y="4.9" width="2.86" height="2.86" fill="#0d2a33"/>
<rect x="33.46" y="-6.32" width="2.65" height="2.65" fill="#0d2a33"/>
<rect x="33.46" y="3.67" width="2.65" height="2.65" fill="#0d2a33"/>
<path d="M29.78,-4.28 V4.28 M31.62,-4.59 V4.59" stroke="#0d2a33" stroke-width="0.8"/>
<rect x="23.77" y="-10.61" width="3.06" height="21.62" fill="#44e0ff" stroke="#1a1a1a" stroke-width="0.8"/>
</g>
<rect x="35.19" y="-2.86" width="11.73" height="5.71" fill="#40dbfe" stroke="#1a1a1a" stroke-width="0.8"/>
<rect x="46.92" y="-7.14" width="3.57" height="14.28" fill="#40dbfe" stroke="#1a1a1a" stroke-width="0.8"/>
<rect x="46.92" y="-7.14" width="2.24" height="2.24" fill="#0d2a33"/>
<rect x="46.92" y="4.9" width="2.24" height="2.24" fill="#0d2a33"/>
<rect x="50.49" y="-10" width="3.06" height="19.99" fill="#40dbfe" stroke="#1a1a1a" stroke-width="0.8"/>
<circle cx="50.29" cy="-10.81" r="2.75" fill="#b4b4b4" stroke="#3a3a3a" stroke-width="0.8"/>
<rect x="53.55" y="-6.83" width="155.04" height="13.97" fill="#40dbfe" stroke="#1a1a1a" stroke-width="0.8"/>
<path d="M53.55,-5.61 H208.59 M53.55,5.92 H208.59" stroke="#1b5260" stroke-width="1" stroke-dasharray="1.8 1.4"/>
<rect x="210.63" y="-7.34" width="6.32" height="14.69" fill="#40dbfe" stroke="#1a1a1a" stroke-width="0.8"/>
<rect x="214.71" y="-7.34" width="2.24" height="2.24" fill="#0d2a33"/>
<rect x="214.71" y="5.1" width="2.24" height="2.24" fill="#0d2a33"/>
<rect x="208.59" y="-10.4" width="2.45" height="20.81" fill="#40dbfe" stroke="#1a1a1a" stroke-width="0.8"/>
<circle cx="214.81" cy="-12.85" r="3.06" fill="#b4b4b4" stroke="#3a3a3a" stroke-width="0.8"/>
<rect x="216.95" y="-3.67" width="11.22" height="7.34" fill="#e2e2e2" stroke="#333" stroke-width="0.7"/>
<rect x="228.38" y="-8.77" width="48.55" height="17.54" fill="#40dbfe" stroke="#1a1a1a" stroke-width="0.8"/>
<rect x="228.38" y="-8.77" width="1.63" height="17.54" fill="#0d2a33"/>
<line x1="237.05" y1="-8.77" x2="237.05" y2="8.77" stroke="#163a44" stroke-width="0.8"/>
<line x1="240.21" y1="-8.77" x2="240.21" y2="8.77" stroke="#163a44" stroke-width="0.8"/>
<line x1="256.12" y1="-8.77" x2="256.12" y2="8.77" stroke="#163a44" stroke-width="0.8"/>
<line x1="259.9" y1="-8.77" x2="259.9" y2="8.77" stroke="#163a44" stroke-width="0.8"/>
<line x1="266.22" y1="-8.77" x2="266.22" y2="8.77" stroke="#163a44" stroke-width="0.8"/>
<circle cx="274.07" cy="-12.34" r="3.06" fill="#b4b4b4" stroke="#3a3a3a" stroke-width="0.8"/>
<path d="M276.93,-7.96 H287.64 Q292.74,-8.67 292.74,-11.22 V10.71 H283.05 Q277.44,9.18 276.93,6.12 Z" fill="#40dbfe" stroke="#1a1a1a" stroke-width="0.8"/>
<path d="M278.97,-4.59 H292.23 M278.97,-1.53 H292.23 M278.97,1.53 H292.23 M278.97,4.59 H292.23 M282.03,-6.12 V7.14 M286.11,-6.63 V7.65 M290.19,-7.14 V8.16" stroke="#0a3340" stroke-width="0.9"/>
<rect x="287.64" y="-6.94" width="2.65" height="2.65" fill="#0d2a33"/>
<rect x="278.46" y="5.61" width="2.45" height="2.45" fill="#0d2a33"/>
<rect x="292.74" y="-10.81" width="3.57" height="21.83" fill="#44e0ff" stroke="#1a1a1a" stroke-width="0.8"/>
<line x1="296.31" y1="0" x2="319.14" y2="0" stroke="#333" stroke-width="1.3" stroke-dasharray="2 1.6"/>
<path d="M296.31,-11.42 A12.75,12.75 0 1 1 296.31,11.42" fill="none" stroke="#303030" stroke-width="0.9" stroke-dasharray="2 1.3"/>
</g>
<g transform="translate(1041.7,408.7) rotate(-41.17) translate(0,0.41)" style="mix-blend-mode:multiply">
<rect x="14.28" y="-11.42" width="292.39" height="22.85" fill="#ccfccc" stroke="#2a2a2a" stroke-width="0.8"/>
<rect x="30.09" y="-11.42" width="30.09" height="9.59" fill="#222c22"/>
<rect x="30.09" y="1.84" width="30.09" height="9.59" fill="#222c22"/>
<rect x="30.09" y="-11.42" width="30.09" height="22.85" fill="none" stroke="#111" stroke-width="0.9"/>
<circle cx="34.99" cy="-6.53" r="3.26" fill="#3c4c3c" stroke="#a8dca8" stroke-width="1.15"/>
<circle cx="34.99" cy="-6.53" r="1.33" fill="#1c221c"/>
<circle cx="34.99" cy="6.53" r="3.26" fill="#3c4c3c" stroke="#a8dca8" stroke-width="1.15"/>
<circle cx="34.99" cy="6.53" r="1.33" fill="#1c221c"/>
<circle cx="44.78" cy="-6.53" r="3.26" fill="#3c4c3c" stroke="#a8dca8" stroke-width="1.15"/>
<circle cx="44.78" cy="-6.53" r="1.33" fill="#1c221c"/>
<circle cx="44.78" cy="6.53" r="3.26" fill="#3c4c3c" stroke="#a8dca8" stroke-width="1.15"/>
<circle cx="44.78" cy="6.53" r="1.33" fill="#1c221c"/>
<circle cx="54.57" cy="-6.53" r="3.26" fill="#3c4c3c" stroke="#a8dca8" stroke-width="1.15"/>
<circle cx="54.57" cy="-6.53" r="1.33" fill="#1c221c"/>
<circle cx="54.57" cy="6.53" r="3.26" fill="#3c4c3c" stroke="#a8dca8" stroke-width="1.15"/>
<circle cx="54.57" cy="6.53" r="1.33" fill="#1c221c"/>
<line x1="30.09" y1="-11.42" x2="30.09" y2="11.42" stroke="#222" stroke-width="1"/>
<circle cx="18.56" cy="-4.69" r="1.12" fill="#111"/>
<circle cx="18.56" cy="-8.16" r="1.12" fill="#111"/>
<circle cx="22.03" cy="-4.69" r="1.12" fill="#111"/>
<circle cx="22.03" cy="-8.16" r="1.12" fill="#111"/>
<circle cx="18.56" cy="4.69" r="1.12" fill="#111"/>
<circle cx="18.56" cy="8.16" r="1.12" fill="#111"/>
<circle cx="22.03" cy="4.69" r="1.12" fill="#111"/>
<circle cx="22.03" cy="8.16" r="1.12" fill="#111"/>
<line x1="25.5" y1="-11.42" x2="25.5" y2="11.42" stroke="#444" stroke-width="0.6" stroke-dasharray="1.5 1.5"/>
<line x1="280.66" y1="-11.42" x2="280.66" y2="11.42" stroke="#222" stroke-width="0.8"/>
<line x1="293.92" y1="-11.42" x2="293.92" y2="11.42" stroke="#111" stroke-width="1.3"/>
<circle cx="285.36" cy="-4.49" r="1.22" fill="#0a0a0a"/>
<circle cx="285.36" cy="-8.06" r="1.22" fill="#0a0a0a"/>
<circle cx="289.03" cy="-4.49" r="1.22" fill="#0a0a0a"/>
<circle cx="289.03" cy="-8.06" r="1.22" fill="#0a0a0a"/>
<circle cx="285.36" cy="4.49" r="1.22" fill="#0a0a0a"/>
<circle cx="285.36" cy="8.06" r="1.22" fill="#0a0a0a"/>
<circle cx="289.03" cy="4.49" r="1.22" fill="#0a0a0a"/>
<circle cx="289.03" cy="8.06" r="1.22" fill="#0a0a0a"/>
<circle cx="298.62" cy="-4.49" r="1.22" fill="#0a0a0a"/>
<circle cx="298.62" cy="-8.06" r="1.22" fill="#0a0a0a"/>
<circle cx="302.29" cy="-4.49" r="1.22" fill="#0a0a0a"/>
<circle cx="302.29" cy="-8.06" r="1.22" fill="#0a0a0a"/>
<circle cx="298.62" cy="4.49" r="1.22" fill="#0a0a0a"/>
<circle cx="298.62" cy="8.06" r="1.22" fill="#0a0a0a"/>
<circle cx="302.29" cy="4.49" r="1.22" fill="#0a0a0a"/>
<circle cx="302.29" cy="8.06" r="1.22" fill="#0a0a0a"/>
<line x1="0" y1="0" x2="321.46" y2="0" stroke="#3a4a3a" stroke-width="1.7" stroke-dasharray="2.5 2.1"/>
</g>
</svg>
<svg width="1440" height="720" style="position:absolute;left:0;top:0">
<text id="bd" x="0" y="0" font-family="Liberation Sans, sans-serif" font-size="21.5" fill="#1e1e1e" transform="translate(176.5,345) rotate(-41) scale(1.105,1)">Brake damper</text>
<text id="od" x="0" y="0" font-family="Liberation Sans, sans-serif" font-size="21.5" fill="#1e1e1e" transform="translate(546.3,231.6) rotate(41) scale(1.128,1)">Oil damper</text>
</svg>
<div class="t" id="h1" style="left:381.92px;top:541px;font-size:30px;transform:scaleX(0.9794)">วิธีเดิม</div>
<div class="t" id="s1a" style="left:222.9px;top:583px;font-size:30px;transform:scaleX(0.948)">(ติดตั้งระนาบโครงสร้าง</div>
<div class="t" id="s1b" style="left:519.15px;top:581.8px;font-size:30.5px">2</div>
<div class="t" id="s1c" style="left:544.23px;top:583px;font-size:30px;transform:scaleX(0.8842)">ระนาบ)</div>
<div class="t" id="h2a" style="left:1068.9px;top:539.6px;font-size:34.2px;transform:scaleX(0.95)">Cross</div>
<div class="t" id="h2b" style="left:1162.69px;top:539.6px;font-size:34.2px;transform:scaleX(1.0381)">Damper</div>
<div class="t" id="s2a" style="left:958.11px;top:590px;font-size:30px;transform:scaleX(0.947)">(ติดตั้งระนาบโครงสร้าง</div>
<div class="t" id="s2b" style="left:1252.1px;top:588.9px;font-size:30.5px">1</div>
<div class="t" id="s2c" style="left:1279.13px;top:590px;font-size:30px;transform:scaleX(0.8853)">ระนาบ)</div>
</body></html>
